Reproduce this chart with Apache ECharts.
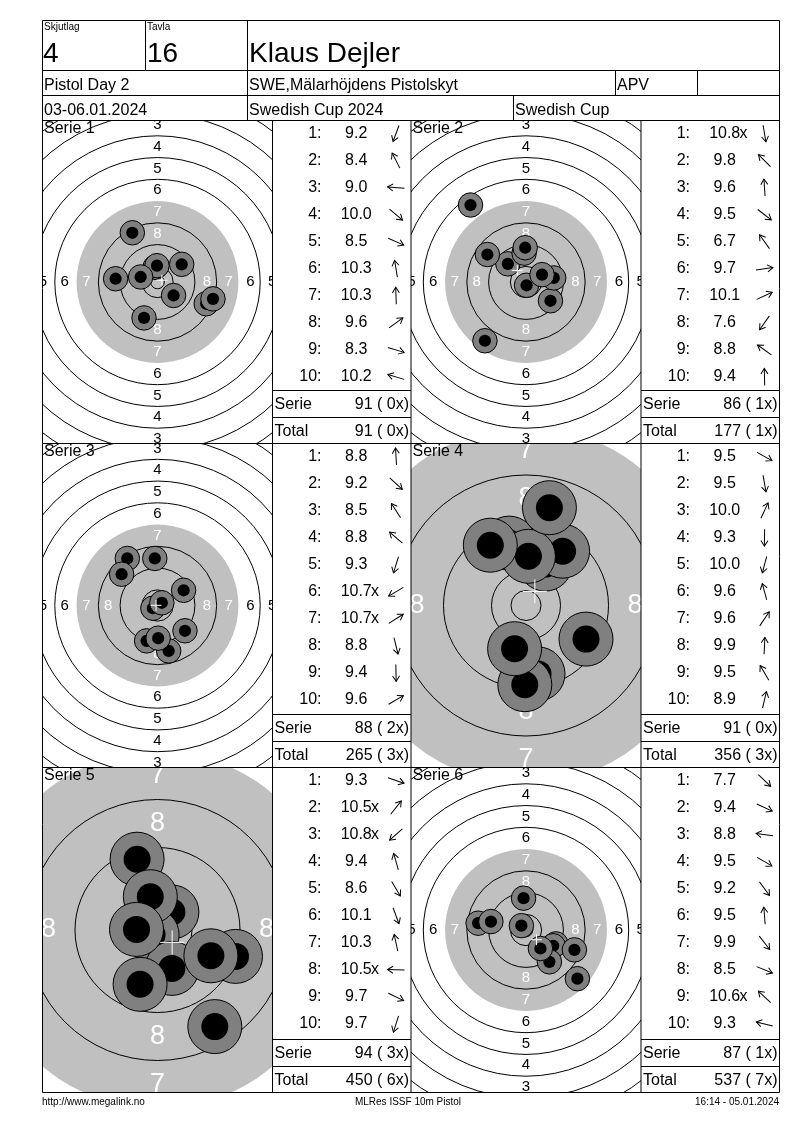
<!DOCTYPE html>
<html><head><meta charset="utf-8">
<script src="https://cdn.jsdelivr.net/npm/echarts@6/dist/echarts.min.js"></script>
<style>html,body{margin:0;padding:0;background:#fff}#c{width:800px;height:1130px}</style>
</head><body><div id="c"></div><script>
// ---------- header texts ----------
const squadNo = '4';
const targetNo = '16';
const shooterName = 'Klaus Dejler';
const eventName = 'Pistol Day 2';
const clubName = 'SWE,Mälarhöjdens Pistolskyt';
const classCode = 'APV';
const dateText = '03-06.01.2024';
const compName = 'Swedish Cup 2024';
const cupName = 'Swedish Cup';
const footerLeft = 'http://www.megalink.no';
const footerMid = 'MLRes ISSF 10m Pistol';
const footerRight = '16:14 - 05.01.2024';

// ---------- shots: position in mm from target centre (x right, y up) and score ----------
const s1x = [-4.96, -9.26, -15.4, 5.9, 17.9, -0.9, -0.2, 8.9, 20.4, -6.2];
const s1y = [-13.2, 18.1, 1.2, -4.96, -8.0, 5.4, 6.0, 6.5, -6.2, 1.85];
const s1v = [9.2, 8.4, 9.0, 10.0, 8.5, 10.3, 10.3, 9.6, 8.3, 10.2];

const s2x = [0.2, -6.67, -0.7, 9.0, -20.4, 10.2, 5.9, -15.1, -14.2, -0.3];
const s2y = [-1.2, 6.67, 10.6, -6.9, 28.3, 1.5, 2.7, -21.6, 10.1, 12.6];
const s2v = [10.8, 9.8, 9.6, 9.5, 6.7, 9.7, 10.1, 7.6, 8.8, 9.4];

const s3x = [-1.0, 10.1, -11.1, -13.2, -4.0, -1.7, 1.6, 4.1, 0.25, 9.6];
const s3y = [17.3, -9.3, 17.3, 11.5, -13.0, -1.0, 1.0, -16.7, -12.0, 5.6];
const s3v = [8.8, 9.2, 8.5, 8.8, 9.3, 10.7, 10.7, 8.8, 9.4, 9.6];

const s4x = [10.0, 2.0, 3.2, -0.2, -1.9, -2.8, 6.1, 0.4, -5.95, 3.9];
const s4y = [-5.6, -11.4, 6.9, -13.2, -7.2, 10.4, 9.05, 8.2, 10.05, 16.3];
const s4v = [9.5, 9.5, 10.0, 9.3, 10.0, 9.6, 9.6, 9.9, 9.5, 8.9];

const s5x = [13.0, 2.4, -0.9, -3.4, 9.55, 2.4, -1.2, -3.5, 8.9, -2.9];
const s5y = [-4.4, 3.0, -0.8, 11.8, -16.1, -6.4, 5.55, 0.1, -4.3, -9.05];
const s5v = [9.3, 10.5, 10.8, 9.4, 8.6, 10.1, 10.3, 10.5, 9.7, 9.7];

const s6x = [18.9, 11.0, -17.6, 10.0, 8.6, -0.9, 5.3, 17.8, -1.7, -12.9];
const s6y = [-17.9, -5.1, 2.5, -5.8, -11.7, 11.7, -6.8, -7.3, 1.6, 3.1];
const s6v = [7.7, 9.4, 8.8, 9.5, 9.2, 9.5, 9.9, 8.5, 10.6, 9.3];

// series summaries
const serieNames = ['Serie 1', 'Serie 2', 'Serie 3', 'Serie 4', 'Serie 5', 'Serie 6'];
const serieSum = [91, 86, 88, 91, 94, 87];
const serieInner = [0, 1, 2, 0, 3, 1];
const totalSum = [91, 177, 265, 356, 450, 537];
const totalInner = [0, 1, 3, 3, 6, 7];

// ISSF 10m pistol target geometry (mm)
const ringRadius = [2.5, 5.75, 13.75, 21.75, 37.75, 45.75, 53.75, 61.75, 69.75, 77.75];
const blackRadius = 29.75;
const ringLabels = [1, 2, 3, 4, 5, 6, 7, 8];
const pelletRadius = 2.25;
const haloRadius = 4.5;

// ---------- layout ----------
const FONT = '"Liberation Sans", Arial, Helvetica, sans-serif';
const X0 = 42.5, X1 = 272.5, X2 = 411, X3 = 641, X4 = 779.5;
const Y0 = 20.5, Y1 = 70.5, Y2 = 95.5, Y3 = 120.5;
const R = [120.5, 443.5, 767.5, 1092.5];
const panelCfg = [
  { c: 0, r: 0, scale: 2.72, lf: 15 },
  { c: 1, r: 0, scale: 2.72, lf: 15 },
  { c: 0, r: 1, scale: 2.72, lf: 15 },
  { c: 1, r: 1, scale: 6.0, lf: 27 },
  { c: 0, r: 2, scale: 6.0, lf: 27 },
  { c: 1, r: 2, scale: 2.72, lf: 15 }
];
const shots = [[s1x, s1y, s1v], [s2x, s2y, s2v], [s3x, s3y, s3v], [s4x, s4y, s4v], [s5x, s5y, s5v], [s6x, s6y, s6v]];

const grids = [], xAxes = [], yAxes = [], series = [], G = [];

function txt(x, y, text, size, align, opts) {
  opts = opts || {};
  G.push({
    type: 'text', x, y, z: 100, silent: true,
    style: {
      text, font: (opts.weight || '') + ' ' + size + 'px ' + FONT, fill: opts.fill || '#000',
      textAlign: align, textVerticalAlign: 'middle', align: align, verticalAlign: 'middle'
    }
  });
}
function ln(x1, y1, x2, y2) {
  G.push({ type: 'line', z: 100, silent: true, shape: { x1, y1, x2, y2 }, style: { stroke: '#000', lineWidth: 1 } });
}

panelCfg.forEach((p, i) => {
  const left = p.c === 0 ? X0 : X2;
  const top = R[p.r];
  const h = R[p.r + 1] - R[p.r];
  const w = 230;
  grids.push({ left, top, width: w, height: h, containLabel: false, show: false });
  const hw = w / 2 / p.scale, hh = h / 2 / p.scale;
  xAxes.push({ gridIndex: i, type: 'value', min: -hw, max: hw, show: false });
  yAxes.push({ gridIndex: i, type: 'value', min: -hh, max: hh, show: false });
  const base = { type: 'custom', xAxisIndex: i, yAxisIndex: i, clip: true, silent: true, animation: false };

  // grey aiming area
  series.push(Object.assign({}, base, {
    z: 1, data: [[0, 0, blackRadius]],
    renderItem: (params, api) => {
      const c = api.coord([0, 0]); const r = api.size([api.value(2), 0])[0];
      return { type: 'circle', shape: { cx: c[0], cy: c[1], r }, style: { fill: '#c0c0c0' } };
    }
  }));
  // rings
  series.push(Object.assign({}, base, {
    z: 2, data: ringRadius.map(r => [0, 0, r]),
    renderItem: (params, api) => {
      const c = api.coord([0, 0]); const r = api.size([api.value(2), 0])[0];
      return { type: 'circle', shape: { cx: c[0], cy: c[1], r }, style: { fill: 'none', stroke: '#000', lineWidth: 1 } };
    }
  }));
  // ring numbers
  const lab = [];
  ringLabels.forEach(n => {
    const d = 1.75 + (10 - n) * 8;
    lab.push([0, d, n], [0, -d, n], [-d - 0.4, 0, n], [d + 0.4, 0, n]);
  });
  series.push(Object.assign({}, base, {
    z: 3, data: lab,
    renderItem: (params, api) => {
      const c = api.coord([api.value(0), api.value(1)]); const n = api.value(2);
      return {
        type: 'text', style: {
          x: c[0], y: c[1], text: String(n), fill: n >= 7 ? '#ffffff' : '#000000',
          font: p.lf + 'px ' + FONT, textAlign: 'center', textVerticalAlign: 'middle', align: 'center', verticalAlign: 'middle'
        }
      };
    }
  }));
  // shots
  const [sx, sy, sv] = shots[i];
  series.push(Object.assign({}, base, {
    z: 4, data: sx.map((x, k) => [x, sy[k], sv[k]]),
    renderItem: (params, api) => {
      const c = api.coord([api.value(0), api.value(1)]);
      const ro = api.size([haloRadius, 0])[0], ri = api.size([pelletRadius, 0])[0];
      return {
        type: 'group', children: [
          { type: 'circle', shape: { cx: c[0], cy: c[1], r: ro }, style: { fill: '#808080', stroke: '#000', lineWidth: 1 } },
          { type: 'circle', shape: { cx: c[0], cy: c[1], r: ri }, style: { fill: '#000' } }
        ]
      };
    }
  }));
  // mean point of impact cross
  const mx = sx.reduce((a, b) => a + b, 0) / sx.length;
  const my = sy.reduce((a, b) => a + b, 0) / sy.length;
  series.push(Object.assign({}, base, {
    z: 5, data: [[mx, my]],
    renderItem: (params, api) => {
      const c = api.coord([api.value(0), api.value(1)]);
      const a = api.size([2.0, 0])[0];
      return {
        type: 'group', children: [
          { type: 'line', shape: { x1: c[0] - a, y1: c[1], x2: c[0] + a, y2: c[1] }, style: { stroke: '#fff', lineWidth: 1 } },
          { type: 'line', shape: { x1: c[0], y1: c[1] - a, x2: c[0], y2: c[1] + a }, style: { stroke: '#fff', lineWidth: 1 } }
        ]
      };
    }
  }));

  // panel title
  txt(left + 1.5, top + 8.5, serieNames[i], 16, 'left');

  // score table
  const L = p.c === 0 ? X1 : X3;
  sv.forEach((v, k) => {
    const y = top + 13 + k * 27.05;
    txt(L + 49, y, (k + 1) + ':', 16, 'right');
    txt(L + 83.7, y, v.toFixed(1), 16, 'center');
    if (v >= 10.5) txt(L + 98.5, y, 'x', 16, 'left');
    const ang = Math.atan2(sy[k], sx[k]);
    G.push({
      type: 'group', x: L + 123.5, y: y, rotation: ang, z: 100, silent: true,
      children: [
        { type: 'polyline', z: 100, shape: { points: [[-8.5, 0], [8.5, 0]] }, style: { stroke: '#000', lineWidth: 1, fill: 'none' } },
        { type: 'polyline', z: 100, shape: { points: [[3, -3.5], [8.5, 0], [3, 3.5]] }, style: { stroke: '#000', lineWidth: 1, fill: 'none' } }
      ]
    });
  });
  const l1 = Math.round(top + h * 0.835) + 0.5, l2 = Math.round(top + h * 0.918) + 0.5;
  ln(L, l1, L + 138.5, l1);
  ln(L, l2, L + 138.5, l2);
  txt(L + 2, (l1 + l2) / 2 + 1, 'Serie', 16, 'left');
  txt(L + 136.5, (l1 + l2) / 2 + 1, serieSum[i] + ' ( ' + serieInner[i] + 'x)', 16, 'right');
  txt(L + 2, (l2 + top + h) / 2 + 1, 'Total', 16, 'left');
  txt(L + 136.5, (l2 + top + h) / 2 + 1, totalSum[i] + ' ( ' + totalInner[i] + 'x)', 16, 'right');
});

// frame lines
G.push({ type: 'rect', z: 100, silent: true, shape: { x: X0, y: Y0, width: X4 - X0, height: R[3] - Y0 }, style: { fill: 'none', stroke: '#000', lineWidth: 1 } });
ln(X0, Y1, X4, Y1); ln(X0, Y2, X4, Y2); ln(X0, Y3, X4, Y3);
ln(145.5, Y0, 145.5, Y1); ln(247.5, Y0, 247.5, Y3);
ln(615.5, Y1, 615.5, Y2); ln(697.5, Y1, 697.5, Y2);
ln(513.5, Y2, 513.5, Y3);
ln(X0, R[1], X4, R[1]); ln(X0, R[2], X4, R[2]);
ln(X1, Y3, X1, R[3]); ln(X2, Y3, X2, R[3]); ln(X3, Y3, X3, R[3]);

// header texts
txt(44, 27, 'Skjutlag', 10, 'left');
txt(147, 27, 'Tavla', 10, 'left');
txt(43, 54.5, squadNo, 28, 'left');
txt(147, 54.5, targetNo, 28, 'left');
txt(249, 54.5, shooterName, 28, 'left');
txt(44, 86, eventName, 16, 'left');
txt(249, 86, clubName, 16, 'left');
txt(617, 86, classCode, 16, 'left');
txt(44, 110.5, dateText, 16, 'left');
txt(249, 110.5, compName, 16, 'left');
txt(515, 110.5, cupName, 16, 'left');
txt(42, 1102.5, footerLeft, 10, 'left');
txt(408, 1102.5, footerMid, 10, 'center');
txt(779, 1102.5, footerRight, 10, 'right');

const chart = echarts.init(document.getElementById('c'), null, { renderer: 'canvas' });
chart.setOption({
  animation: false,
  backgroundColor: '#ffffff',
  grid: grids, xAxis: xAxes, yAxis: yAxes, series: series,
  graphic: G
});
</script></body></html>
